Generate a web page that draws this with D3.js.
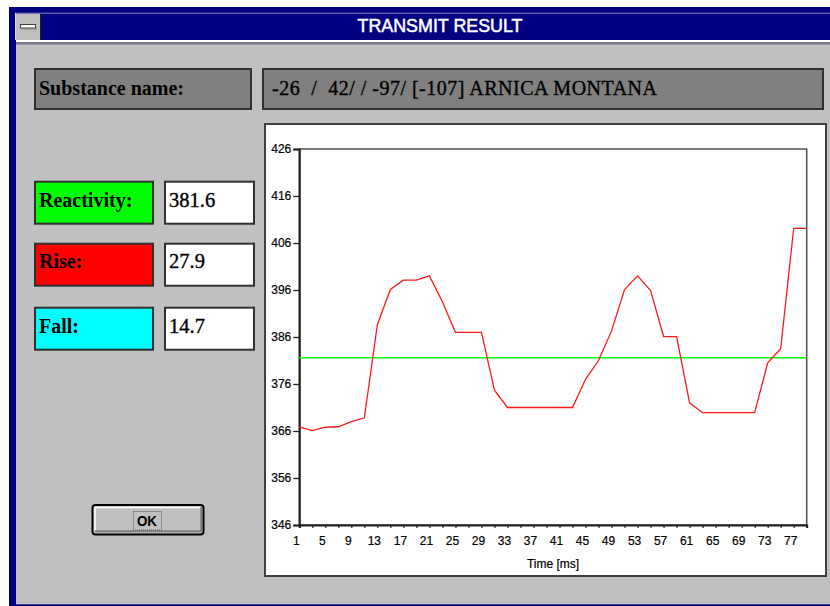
<!DOCTYPE html>
<html><head><meta charset="utf-8">
<script src="https://cdn.jsdelivr.net/npm/d3@7"></script>
<style>
body{margin:0;background:#fff;}
svg{display:block;}
.pre{white-space:pre;}
</style>
</head><body><svg id="c" width="830" height="606"></svg>
<script>
const windowTitle = "TRANSMIT RESULT";
const substanceLabel = "Substance name:";
const substanceName = "-26  /  42/ / -97/ [-107] ARNICA MONTANA";
const metricNames = ["Reactivity:", "Rise:", "Fall:"];
const metricValues = ["381.6", "27.9", "14.7"];
const metricColors = ["#00ff00", "#ff0000", "#00ffff"];
const reactivityLevel = 381.6;

const time = [1,3,5,7,9,11,13,15,17,19,21,23,25,27,29,31,33,35,37,39,41,43,45,47,49,51,53,55,57,59,61,63,65,67,69,71,73,75,77,79];
const signal = [366.9,366.1,366.8,366.9,368.0,368.8,388.6,396.1,398.1,398.1,399.0,393.5,387.0,387.0,387.0,374.7,371.0,371.0,371.0,371.0,371.0,371.0,377.0,381.0,387.3,396.1,399.0,395.9,386.1,386.1,372.0,369.9,369.9,369.9,369.9,369.9,380.5,383.5,409.1,409.1];

const yTicks = [346,356,366,376,386,396,406,416,426];
const xTicks = [1,3,5,7,9,11,13,15,17,19,21,23,25,27,29,31,33,35,37,39,41,43,45,47,49,51,53,55,57,59,61,63,65,67,69,71,73,75,77,79];
const xLabels = [1,5,9,13,17,21,25,29,33,37,41,45,49,53,57,61,65,69,73,77];
const xAxisTitle = "Time [ms]";

const svg = d3.select("#c");
const serif = "'Liberation Serif','Times New Roman',serif";
const sans = "'Liberation Sans',Arial,sans-serif";

// window frame
svg.append("rect").attr("x",0).attr("y",0).attr("width",830).attr("height",606).attr("fill","#fff");
svg.append("rect").attr("x",9).attr("y",7).attr("width",821).attr("height",599).attr("fill","#000080");
svg.append("line").attr("x1",15).attr("x2",830).attr("y1",13.2).attr("y2",13.2).attr("stroke","#8080c0").attr("stroke-width",1);
svg.append("line").attr("x1",15.5).attr("x2",15.5).attr("y1",13).attr("y2",40).attr("stroke","#e0e0e0").attr("stroke-width",1);
// system menu button
svg.append("rect").attr("x",16).attr("y",13.7).attr("width",24).attr("height",26.3).attr("fill","#c0c0c0");
svg.append("line").attr("x1",40.5).attr("x2",40.5).attr("y1",13.7).attr("y2",40).attr("stroke","#202020").attr("stroke-width",1);
svg.append("rect").attr("x",20.5).attr("y",24.5).attr("width",15).attr("height",3.5).attr("fill","#fff").attr("stroke","#404040").attr("stroke-width",1);
svg.append("line").attr("x1",21).attr("x2",37).attr("y1",29).attr("y2",29).attr("stroke","#808080").attr("stroke-width",1);
// title
svg.append("text").attr("x",440).attr("y",32).attr("text-anchor","middle")
  .attr("font-family","'Liberation Sans Narrow','Arial Narrow',"+sans).attr("font-size",17.5)
  .attr("fill","#fff").attr("stroke","#fff").attr("stroke-width",0.5)
  .attr("textLength",165).attr("lengthAdjust","spacingAndGlyphs").text(windowTitle);
// under title
svg.append("rect").attr("x",16).attr("y",40).attr("width",814).attr("height",2.3).attr("fill","#fff");
svg.append("rect").attr("x",16).attr("y",42.3).attr("width",814).attr("height",2).attr("fill","#808080");
svg.append("rect").attr("x",16).attr("y",44.3).attr("width",814).attr("height",560).attr("fill","#c0c0c0");

// substance boxes
svg.append("rect").attr("x",35).attr("y",69).attr("width",216).attr("height",40).attr("fill","#808080").attr("stroke","#303030").attr("stroke-width",2);
svg.append("rect").attr("x",263).attr("y",69).attr("width",560).attr("height",40).attr("fill","#808080").attr("stroke","#303030").attr("stroke-width",2);
svg.append("text").attr("x",39).attr("y",94.5).attr("font-family",serif).attr("font-weight","bold").attr("font-size",20).attr("fill","#000").text(substanceLabel);
svg.append("text").attr("class","pre").attr("x",272).attr("y",94.5).attr("font-family",serif).attr("font-size",20).attr("fill","#000")
  .attr("stroke","#000").attr("stroke-width",0.35)
  .attr("textLength",385).attr("lengthAdjust","spacing").text(substanceName);

// metric boxes
const rowTop = [181.7, 243.7, 307.7];
const rowBase = [206.5, 268.3, 332.5];
metricNames.forEach((n,i)=>{
  svg.append("rect").attr("x",35).attr("y",rowTop[i]).attr("width",118).attr("height",42).attr("fill",metricColors[i]).attr("stroke","#303030").attr("stroke-width",2);
  svg.append("rect").attr("x",165).attr("y",rowTop[i]).attr("width",89).attr("height",42).attr("fill","#fff").attr("stroke","#303030").attr("stroke-width",2);
  svg.append("text").attr("x",39).attr("y",rowBase[i]).attr("font-family",serif).attr("font-weight","bold").attr("font-size",20).text(n);
  svg.append("text").attr("x",169).attr("y",rowBase[i]).attr("font-family",serif).attr("font-size",20.5)
    .attr("stroke","#000").attr("stroke-width",0.35).text(metricValues[i]);
});

// OK button
svg.append("rect").attr("x",92.5).attr("y",505).attr("width",111).attr("height",29.5).attr("rx",3).attr("fill","#c0c0c0").attr("stroke","#000").attr("stroke-width",2);
svg.append("path").attr("d","M95,531 L95,507.5 L201,507.5").attr("fill","none").attr("stroke","#fff").attr("stroke-width",1.5);
svg.append("path").attr("d","M95,531.2 L201.2,531.2 L201.2,507").attr("fill","none").attr("stroke","#808080").attr("stroke-width",2);
svg.append("rect").attr("x",133.5).attr("y",511.5).attr("width",28).attr("height",18.5).attr("fill","none").attr("stroke","#404040").attr("stroke-width",0.8).attr("stroke-dasharray","1,1");
svg.append("text").attr("x",147).attr("y",526).attr("text-anchor","middle").attr("font-family",sans).attr("font-weight","bold").attr("font-size",15)
  .attr("textLength",20).attr("lengthAdjust","spacingAndGlyphs").text("OK");

// chart panel
svg.append("rect").attr("x",265).attr("y",124).attr("width",561).attr("height",452).attr("fill","#fff").attr("stroke","#404040").attr("stroke-width",2);

const plot = {l:299.3, r:806.7, t:149, b:525};
const x = d3.scaleLinear().domain([1,79]).range([plot.l, plot.r]);
const y = d3.scaleLinear().domain([346,426]).range([plot.b, plot.t]);

// plot frame
svg.append("rect").attr("x",plot.l).attr("y",plot.t).attr("width",plot.r-plot.l).attr("height",plot.b-plot.t).attr("fill","none").attr("stroke","#505050").attr("stroke-width",1.5);

// y axis
const ya = svg.append("g").attr("transform",`translate(${plot.l},0)`)
  .call(d3.axisLeft(y).tickValues(yTicks).tickSize(6).tickPadding(2).tickFormat(d3.format("d")));
ya.select(".domain").attr("stroke","#202020").attr("stroke-width",2);
ya.selectAll(".tick line").attr("stroke","#202020").attr("stroke-width",1.3);
ya.selectAll("text").attr("font-family",sans).attr("font-size",12).attr("fill","#000").attr("stroke","#000").attr("stroke-width",0.2);

// x axis
const xa = svg.append("g").attr("transform",`translate(0,${plot.b})`)
  .call(d3.axisBottom(x).tickValues(xTicks).tickSize(3).tickFormat(d=> xLabels.includes(d) ? String(d) : ""));
xa.select(".domain").attr("stroke","#202020").attr("stroke-width",2);
xa.selectAll(".tick line").attr("stroke","#202020").attr("stroke-width",1.2);
xa.selectAll("text").attr("font-family",sans).attr("font-size",12).attr("fill","#000").attr("stroke","#000").attr("stroke-width",0.2)
  .attr("y",19.5).attr("dy",0).attr("dx",-3.5);

svg.append("text").attr("x",(plot.l+plot.r)/2).attr("y",567.5).attr("text-anchor","middle").attr("font-family",sans).attr("font-size",12)
  .attr("stroke","#000").attr("stroke-width",0.2).text(xAxisTitle);

// reactivity line
svg.append("line").attr("x1",x(1)).attr("x2",x(79)).attr("y1",y(reactivityLevel)).attr("y2",y(reactivityLevel))
  .attr("stroke","#00ff00").attr("stroke-width",1.4);

// signal
const line = d3.line().x((d,i)=>x(time[i])).y(d=>y(d));
svg.append("path").datum(signal).attr("d",line).attr("fill","none").attr("stroke","#ff1a1a").attr("stroke-width",1.3);
</script></body></html>
